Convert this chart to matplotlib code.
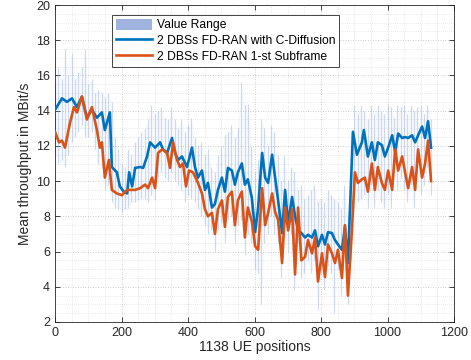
import numpy as np
import matplotlib
matplotlib.use("Agg")
import matplotlib.pyplot as plt
from matplotlib.patches import Patch
from matplotlib.ticker import MultipleLocator

# Blue series: 2 DBSs FD-RAN with C-Diffusion
blue_x = [0, 21, 36, 51, 66, 81, 96, 111, 126, 141, 150, 165, 171, 186, 195, 207, 217, 223, 232, 241,
          256, 265, 277, 286, 301, 316, 325, 337, 352, 361, 370, 382, 397, 412, 421, 430, 442, 451, 460, 472,
          481, 490, 502, 511, 520, 532, 541, 550, 562, 571, 580, 592, 602, 611, 623, 632, 641, 653, 662, 671,
          683, 692, 701, 713, 722, 731, 741, 752, 761, 773, 782, 791, 803, 812, 821, 833, 842, 851, 863, 872,
          881, 896, 908, 923, 929, 941, 953, 962, 971, 983, 992, 1002, 1014, 1023, 1032, 1044, 1053, 1062, 1074, 1083,
          1092, 1104, 1113, 1122, 1131]
blue_y = [14.05, 14.7, 14.5, 14.7, 14.2, 14.8, 13.6, 14.05, 13.6, 13.9, 12.9, 13.9, 10.8, 10.5, 9.7, 9.4, 9.3, 10.5, 9.7, 10.75,
          10.8, 10.75, 11.4, 12.2, 11.9, 12.2, 11.8, 11.6, 12.45, 11.6, 11.2, 11.4, 10.8, 11.9, 10.8, 10.2, 10.6, 9.5, 9.9, 8.5,
          8.7, 9.5, 10.2, 9.4, 10.75, 10.6, 9.8, 10.5, 11.0, 9.8, 10.1, 9.05, 7.1, 8.5, 11.6, 10.2, 9.9, 11.5, 10.2, 8.9,
          7.05, 9.5, 7.6, 9.1, 8.0, 7.2, 7.05, 6.8, 6.95, 6.8, 7.2, 6.3, 6.95, 6.4, 7.1, 7.05, 6.65, 6.4, 6.1, 7.4,
          5.35, 12.8, 11.5, 12.2, 12.9, 11.4, 12.2, 11.2, 12.2, 12.05, 11.4, 11.9, 12.6, 11.65, 12.7, 12.45, 12.5, 12.45, 12.6, 12.2,
          12.6, 13.1, 12.45, 13.4, 11.9]

# Orange series: 2 DBSs FD-RAN 1-st Subframe
orange_x = [0, 12, 21, 30, 45, 57, 66, 81, 96, 111, 126, 135, 141, 150, 162, 171, 186, 201, 217, 241,
            256, 271, 280, 292, 301, 310, 322, 337, 346, 355, 367, 376, 385, 394, 403, 415, 430, 442, 451, 460,
            472, 481, 490, 502, 511, 520, 532, 541, 550, 562, 571, 580, 592, 602, 611, 623, 632, 641, 653, 662,
            671, 683, 692, 701, 713, 722, 731, 741, 752, 761, 773, 782, 791, 803, 812, 821, 833, 842, 851, 863,
            872, 881, 893, 902, 911, 923, 932, 941, 953, 962, 971, 983, 992, 1002, 1014, 1023, 1032, 1044, 1053, 1062,
            1074, 1083, 1092, 1104, 1113, 1122, 1131]
orange_y = [12.8, 12.2, 12.3, 11.9, 13.3, 14.2, 13.9, 14.8, 13.5, 14.2, 12.9, 11.9, 12.2, 10.2, 11.2, 9.5, 9.3, 9.2, 9.5, 9.5,
            9.6, 9.8, 9.6, 10.2, 9.6, 11.6, 11.8, 11.6, 10.75, 12.2, 11.2, 10.8, 11.0, 9.7, 10.6, 10.5, 9.9, 9.3, 8.4, 8.0,
            8.2, 7.0, 8.4, 8.9, 7.4, 9.1, 9.4, 7.5, 8.9, 9.4, 6.8, 8.5, 7.7, 6.3, 6.1, 9.6, 7.5, 8.2, 9.3, 8.25,
            7.8, 5.35, 8.5, 7.2, 8.4, 4.7, 8.5, 5.5, 5.7, 6.65, 5.9, 6.8, 4.3, 5.9, 4.55, 6.4, 5.9, 5.35, 6.1, 4.5,
            7.5, 3.5, 7.2, 10.5, 9.9, 10.1, 10.2, 9.4, 11.0, 9.5, 10.8, 9.9, 9.5, 10.6, 9.5, 11.8, 10.6, 11.4, 10.5, 9.6,
            10.8, 9.5, 11.8, 10.2, 11.0, 12.3, 10.0]

# Value range (min / max) per sampled UE position
range_x = np.arange(0, 1140, 10)
range_hi = [15.5, 16.5, 15.8, 17.5, 16.0, 17.3, 15.8, 16.2, 16.5, 17.5,
            15.5, 15.8, 15.0, 15.2, 15.0, 14.8, 15.0, 14.5, 12.5, 11.8,
            11.0, 10.8, 11.8, 11.5, 12.2, 12.5, 12.8, 13.0, 13.5, 14.3,
            13.8, 14.0, 14.2, 13.6, 13.5, 14.2, 13.5, 13.0, 13.5, 12.8,
            13.2, 13.6, 12.5, 12.0, 12.2, 11.5, 11.8, 10.8, 10.5, 11.5,
            12.0, 12.6, 12.8, 13.2, 12.5, 13.0, 15.6, 14.3, 14.4, 12.0,
            10.5, 11.2, 13.5, 13.0, 12.0, 13.2, 12.8, 11.5, 10.0, 11.5,
            10.0, 10.8, 10.5, 9.5, 9.8, 9.0, 9.2, 9.5, 9.8, 8.8,
            9.0, 8.8, 9.5, 9.2, 9.0, 8.8, 8.5, 9.8, 8.0, 9.0,
            14.3, 13.8, 14.3, 14.0, 13.5, 14.3, 13.8, 14.3, 14.0, 13.8,
            14.3, 14.2, 13.6, 14.3, 14.2, 14.3, 13.8, 14.3, 14.0, 14.2,
            14.3, 13.8, 14.3, 13.5]
range_lo = [11.5, 11.0, 11.2, 10.8, 11.5, 12.2, 12.5, 12.8, 13.2, 12.5,
            12.5, 12.8, 11.8, 11.0, 10.8, 9.5, 9.8, 8.8, 8.5, 8.4,
            8.2, 8.4, 8.5, 8.8, 8.8, 8.9, 9.0, 9.0, 8.8, 9.2,
            8.9, 10.2, 10.5, 10.2, 10.0, 10.5, 10.0, 9.8, 9.5, 8.8,
            9.2, 9.0, 8.8, 8.5, 8.0, 7.5, 7.0, 7.2, 6.0, 7.2,
            7.6, 6.5, 7.8, 8.0, 6.5, 7.5, 7.8, 5.8, 7.0, 6.5,
            5.0, 4.8, 3.0, 6.5, 7.0, 8.0, 7.0, 6.5, 4.5, 7.0,
            6.0, 7.0, 3.8, 6.5, 4.5, 4.8, 5.5, 4.8, 5.5, 2.7,
            4.8, 3.8, 5.2, 4.8, 2.5, 5.0, 3.5, 6.0, 3.0, 5.5,
            9.5, 8.8, 9.0, 9.2, 8.5, 9.8, 8.5, 9.5, 8.8, 8.5,
            9.3, 8.5, 10.5, 9.5, 10.2, 9.5, 8.8, 9.8, 8.5, 10.5,
            9.2, 9.8, 10.8, 9.2]

x_ticks = [0, 200, 400, 600, 800, 1000, 1200]
y_ticks = [2, 4, 6, 8, 10, 12, 14, 16, 18, 20]

BLUE = "#0072BD"
ORANGE = "#D95319"
RANGE_C = "#9FB3DE"
AX_C = "#262626"

plt.rcParams["font.family"] = ["Liberation Sans", "DejaVu Sans"]

fig = plt.figure(figsize=(4.71, 3.60), dpi=100)
ax = fig.add_axes([55 / 471, 1 - 322 / 360, (454 - 55) / 471, (322 - 5) / 360])

ax.fill_between(range_x, range_lo, range_hi, color=RANGE_C, alpha=0.08, lw=0, zorder=1)
ax.vlines(range_x, range_lo, range_hi, color=RANGE_C, alpha=0.45, lw=0.8, zorder=1)
ax.plot(blue_x, blue_y, color=BLUE, lw=1.9, zorder=3)
ax.plot(orange_x, orange_y, color=ORANGE, lw=1.9, zorder=3)

ax.set_xlim(0, 1200)
ax.set_ylim(2, 20)
ax.set_xticks(x_ticks)
ax.set_yticks(y_ticks)
ax.xaxis.set_minor_locator(MultipleLocator(50))
ax.yaxis.set_minor_locator(MultipleLocator(0.5))
ax.grid(which="major", color="#b0b0b0", ls=(0, (1, 2)), lw=0.6, alpha=0.8)
ax.grid(which="minor", color="#c8c8c8", ls=(0, (1, 2)), lw=0.5, alpha=0.7)
ax.set_axisbelow(True)

ax.tick_params(which="both", direction="in", top=True, right=True, colors=AX_C,
               labelsize=9, labelcolor=AX_C)
ax.tick_params(which="major", length=3.5, width=0.6)
ax.tick_params(which="minor", length=0)
for s in ax.spines.values():
    s.set_color(AX_C)
    s.set_linewidth(0.6)

ax.set_xlabel("1138 UE positions", fontsize=10, color=AX_C, labelpad=1)
ax.set_ylabel("Mean throughput in MBit/s", fontsize=10, color=AX_C, labelpad=3)

handles = [Patch(facecolor=RANGE_C, edgecolor="none"),
           plt.Line2D([], [], color=BLUE, lw=1.9),
           plt.Line2D([], [], color=ORANGE, lw=1.9)]
labels = ["Value Range", "2 DBSs FD-RAN with C-Diffusion", "2 DBSs FD-RAN 1-st Subframe"]
leg = ax.legend(handles, labels, loc="upper left", bbox_to_anchor=(0.143, 0.968),
                fontsize=8.7, frameon=True, fancybox=False, edgecolor=AX_C,
                handlelength=3.0, handleheight=1.05, labelspacing=0.25,
                borderpad=0.3, handletextpad=0.4, borderaxespad=0)
leg.get_frame().set_linewidth(0.6)
leg.get_frame().set_facecolor("white")
leg.get_frame().set_alpha(1.0)

fig.savefig("out.png", dpi=100)
